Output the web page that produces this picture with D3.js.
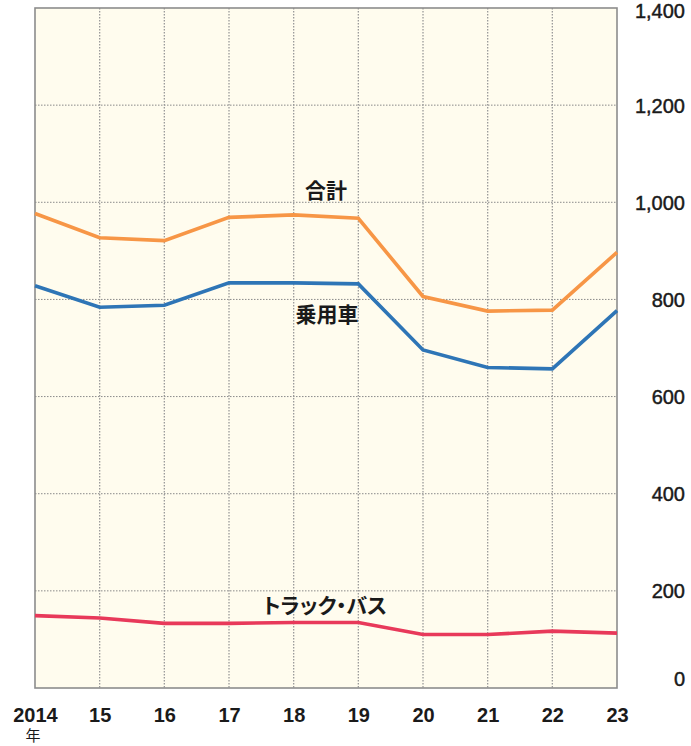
<!DOCTYPE html>
<html><head><meta charset="utf-8">
<script src="https://cdn.jsdelivr.net/npm/d3@7"></script>
<style>body{margin:0;background:#fff}svg{display:block}</style>
</head><body><svg id="c" width="691" height="746"></svg>
<script>
const years = ["2014","15","16","17","18","19","20","21","22","23"];
const total = [977, 927, 921, 969, 974, 967, 806, 776, 778, 897];
const passenger = [828, 784, 788, 834, 834, 832, 696, 660, 657, 777];
const truckBus = [149, 144, 133, 133, 135, 135, 110, 110, 117, 113];
const yTicks = [0, 200, 400, 600, 800, 1000, 1200, 1400];
const seriesNames = ["合計", "乗用車", "トラック・バス"];

const svg = d3.select("#c");
const L = 35, R = 617, T = 8, B = 688;
const x = d3.scalePoint().domain(years).range([L, R]);
const y = d3.scaleLinear().domain([0, 1400]).range([B, T]);

svg.append("rect").attr("x", L).attr("y", T).attr("width", R - L).attr("height", B - T).attr("fill", "#fffcee");

// grid
svg.append("g").selectAll("line").data(yTicks.filter(d => d > 0 && d < 1400)).join("line")
  .attr("x1", L).attr("x2", R).attr("y1", d => y(d)).attr("y2", d => y(d))
  .attr("stroke", "#8a8a8a").attr("stroke-width", 1).attr("stroke-dasharray", "1.5,1.5");
svg.append("g").selectAll("line").data(years.slice(1, -1)).join("line")
  .attr("x1", d => x(d)).attr("x2", d => x(d)).attr("y1", T).attr("y2", B)
  .attr("stroke", "#9a9a9a").attr("stroke-width", 1.3).attr("stroke-dasharray", "1.5,1.5");

svg.append("rect").attr("x", L).attr("y", T).attr("width", R - L).attr("height", B - T)
  .attr("fill", "none").attr("stroke", "#8c8c8c").attr("stroke-width", 1.6);

const line = d3.line().x((d, i) => x(years[i])).y(d => y(d));
const series = [[total, "#f79646"], [passenger, "#2e75b6"], [truckBus, "#e8395a"]];
series.forEach(([vals, col]) => {
  svg.append("path").attr("d", line(vals)).attr("fill", "none").attr("stroke", col)
    .attr("stroke-width", 3.6).attr("stroke-linejoin", "miter");
});

const font = "'Liberation Sans', Arial, sans-serif";
// y axis labels (right)
const yAxis = d3.axisRight(y).tickValues(yTicks).tickSize(0).tickPadding(0).tickFormat(d3.format(","));
const gy = svg.append("g").attr("transform", `translate(685,0)`).call(yAxis);
gy.select(".domain").remove();
gy.selectAll("text").attr("text-anchor", "end").attr("font-family", font).attr("font-size", 20)
  .attr("fill", "#1a1a1a").attr("stroke", "#1a1a1a").attr("stroke-width", 0.45).attr("dy", "0.35em");
gy.selectAll(".tick").filter(d => d === 1400).select("text").attr("dy", "0.45em");
gy.selectAll(".tick").filter(d => d === 0).select("text").attr("dy", "-0.15em");

// x axis labels
const xAxis = d3.axisBottom(x).tickSize(0).tickPadding(0);
const gx = svg.append("g").attr("transform", `translate(0,722)`).call(xAxis);
gx.select(".domain").remove();
gx.selectAll("text").attr("font-family", font).attr("font-size", 20).attr("font-weight", "bold")
  .attr("fill", "#1a1a1a").attr("dy", 0);
svg.append("text").attr("x", 33).attr("y", 741).attr("text-anchor", "middle")
  .attr("font-family", "'Noto Sans CJK JP', sans-serif").attr("font-size", 15).attr("fill", "#1a1a1a").text("年");

// series labels
const lab = [[seriesNames[0], 326, 198, 21, false], [seriesNames[1], 327, 322, 21, false], [seriesNames[2], 325, 613, 21, true]];
lab.forEach(([t, lx, ly, fs, palt]) => {
  const el = svg.append("text").attr("x", lx).attr("y", ly).attr("text-anchor", "middle")
    .attr("font-family", "'Noto Sans CJK JP', sans-serif").attr("font-weight", "bold")
    .attr("font-size", fs).attr("fill", "#1a1a1a").text(t);
  if (palt) el.style("font-feature-settings", "'palt'");
});
</script></body></html>
